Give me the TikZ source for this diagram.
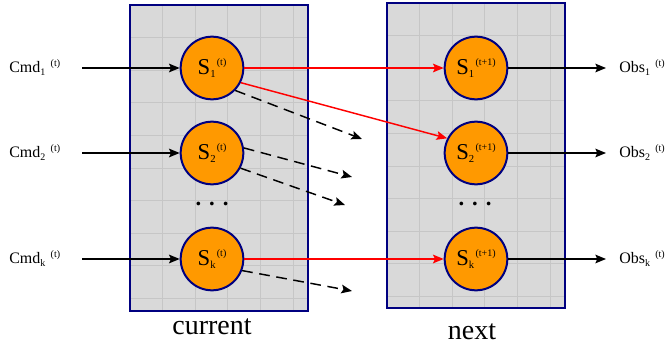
\documentclass[tikz,border=0pt]{standalone}
\usepackage{fontspec}
\setmainfont{Liberation Serif}
\usetikzlibrary{arrows.meta}
\definecolor{navy}{RGB}{0,0,128}
\definecolor{orng}{RGB}{255,153,0}
\definecolor{boxfill}{RGB}{217,217,217}
\definecolor{gridc}{RGB}{198,198,198}
\definecolor{redar}{RGB}{255,0,0}
\newcommand\stlab[3]{{\fontsize{17}{17}\selectfont S}\raisebox{-2pt}{\fontsize{8}{8}\selectfont #1}\kern#3\raisebox{6.5pt}{\fontsize{7.5}{7.5}\selectfont #2}}
\newcommand\iolab[3]{{\fontsize{12}{12}\selectfont #1}\raisebox{-2pt}{\fontsize{7.5}{7.5}\selectfont #2}\hspace{4pt}\raisebox{4.5pt}{\fontsize{7.5}{7.5}\selectfont #3}}
\begin{document}
\begin{tikzpicture}[x=0.75pt,y=-0.75pt,
  framebox/.style={draw=navy,line width=2pt,fill=boxfill},
  gridline/.style={draw=gridc,line width=0.6pt},
  statenode/.style={circle,draw=navy,line width=1.5pt,fill=orng,minimum size=47pt,inner sep=0pt},
  tip/.style={-{Stealth[length=8pt,width=6.5pt,inset=1.5pt]}},
  blackarrow/.style={tip,line width=1.1pt,black},
  redarrow/.style={tip,line width=1.1pt,redar},
  dasharrow/.style={tip,line width=1.1pt,black,dash pattern=on 8pt off 5pt},
  iotext/.style={anchor=base west,inner sep=0pt},
  caption/.style={anchor=base,inner sep=0pt,font=\fontsize{21}{21}\selectfont},
  dotstext/.style={inner sep=0pt,font=\fontsize{17}{17}\selectfont\bfseries}
]
\useasboundingbox (0,0) rectangle (665,349);
% boxes
\path[framebox] (130,5) rectangle (308,311);
\foreach \i in {1,...,5} \draw[gridline] ({130+32.6*\i},6) -- ({130+32.6*\i},310);
\foreach \j in {1,...,9} \draw[gridline] (131,{5+32.6*\j}) -- (307,{5+32.6*\j});
\draw[draw=navy,line width=2pt] (130,5) rectangle (308,311);
\path[framebox] (387,3) rectangle (565,308);
\foreach \i in {1,...,5} \draw[gridline] ({387+32.6*\i},4) -- ({387+32.6*\i},307);
\foreach \j in {1,...,9} \draw[gridline] (388,{3+32.6*\j}) -- (564,{3+32.6*\j});
\draw[draw=navy,line width=2pt] (387,3) rectangle (565,308);
% states
\node[statenode] (c1) at (212,68) {\stlab{1}{(t)}{1pt}};
\node[statenode] (c2) at (212,153) {\stlab{2}{(t)}{1pt}};
\node[statenode] (ck) at (212,259) {\stlab{k}{(t)}{1pt}};
\node[statenode] (n1) at (476,68) {\stlab{1}{(t+1)}{1pt}};
\node[statenode] (n2) at (476,153) {\stlab{2}{(t+1)}{1pt}};
\node[statenode] (nk) at (476,259) {\stlab{k}{(t+1)}{1pt}};
\node[dotstext] (cdots) at (212,204) {.\kern6pt.\kern6pt.};
\node[dotstext] (ndots) at (475,204) {.\kern6pt.\kern6pt.};
% captions
\node[caption] (ccap) at (212,335) {current};
\node[caption] (ncap) at (472,340) {next};
% inputs
\node[iotext] (cmd1) at (9,73) {\iolab{Cmd}{1}{(t)}};
\node[iotext] (cmd2) at (9,158) {\iolab{Cmd}{2}{(t)}};
\node[iotext] (cmdk) at (9,264) {\iolab{Cmd}{k}{(t)}};
\coordinate (a1) at (82,68);
\coordinate (a2) at (82,153);
\coordinate (ak) at (82,259);
\draw[blackarrow] (a1) -- (c1.west);
\draw[blackarrow] (a2) -- (c2.west);
\draw[blackarrow] (ak) -- (ck.west);
% outputs
\node[iotext] (obs1) at (619,73) {\iolab{Obs}{1}{(t)}};
\node[iotext] (obs2) at (619,158) {\iolab{Obs}{2}{(t)}};
\node[iotext] (obsk) at (619,264) {\iolab{Obs}{k}{(t)}};
\coordinate (o1) at (606,68);
\coordinate (o2) at (606,153);
\coordinate (ok) at (606,259);
\draw[blackarrow] (n1.east) -- (o1);
\draw[blackarrow] (n2.east) -- (o2);
\draw[blackarrow] (nk.east) -- (ok);
% transitions
\draw[redarrow] (c1.east) -- (n1.west);
\draw[redarrow] (c1.-27) -- (n2.153);
\draw[redarrow] (ck.east) -- (nk.west);
\coordinate (d1) at (362,139);
\coordinate (d2) at (352,177);
\coordinate (d3) at (345,205);
\coordinate (d4) at (352,291);
\draw[dasharrow] (c1.-44) -- (d1);
\draw[dasharrow] (c2.9) -- (d2);
\draw[dasharrow] (c2.-28) -- (d3);
\draw[dasharrow] (ck.-21) -- (d4);
\end{tikzpicture}
\end{document}
